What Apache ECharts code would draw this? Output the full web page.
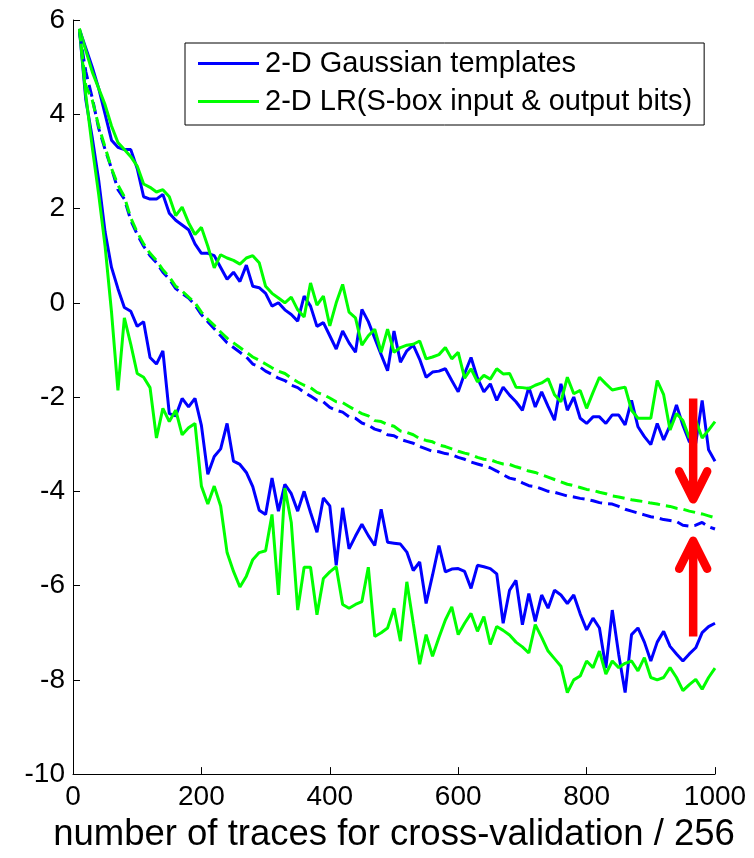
<!DOCTYPE html>
<html>
<head>
<meta charset="utf-8">
<script src="https://cdn.jsdelivr.net/npm/echarts@6/dist/echarts.min.js"></script>
<style>
html,body{margin:0;padding:0;background:#fff;}
#chart{width:754px;height:858px;}
</style>
</head>
<body>
<div id="chart"></div>
<script>
// ---- data ----
const xs = [10,20,30,40,50,60,70,80,90,100,
  110,120,130,140,150,160,170,180,190,200,
  210,220,230,240,250,260,270,280,290,300,
  310,320,330,340,350,360,370,380,390,400,
  410,420,430,440,450,460,470,480,490,500,
  510,520,530,540,550,560,570,580,590,600,
  610,620,630,640,650,660,670,680,690,700,
  710,720,730,740,750,760,770,780,790,800,
  810,820,830,840,850,860,870,880,890,900,
  910,920,930,940,950,960,970,980,990,1000];

const blueUpper = [5.8,5.4,5.0,4.55,4.0,3.45,3.3,3.25,3.25,2.85,
  2.25,2.2,2.2,2.3,1.9,1.75,1.65,1.55,1.25,1.05,
  1.05,1.0,0.75,0.5,0.65,0.45,0.8,0.35,0.32,0.2,
  -0.07,0.0,-0.15,-0.25,-0.39,0.14,-0.07,-0.5,-0.42,-0.7,
  -0.98,-0.6,-0.85,-1.05,-0.14,-0.4,-0.75,-1.1,-1.44,-0.6,
  -1.26,-1.02,-0.9,-1.2,-1.58,-1.47,-1.45,-1.4,-1.65,-1.89,
  -1.5,-1.16,-1.6,-1.89,-1.72,-2.07,-1.79,-1.96,-2.1,-2.28,
  -1.79,-2.21,-1.89,-2.2,-2.49,-1.72,-2.28,-2.0,-2.45,-2.56,
  -2.42,-2.42,-2.56,-2.38,-2.38,-2.59,-2.07,-2.63,-2.84,-3.01,
  -2.56,-2.91,-2.6,-2.17,-2.6,-2.95,-2.98,-2.07,-3.12,-3.36];

const blueMiddle = [5.75,4.9,4.35,3.7,3.25,2.85,2.4,2.2,1.75,1.45,
  1.2,1.0,0.85,0.65,0.5,0.3,0.2,0.1,-0.05,-0.25,
  -0.4,-0.55,-0.7,-0.85,-0.95,-1.05,-1.15,-1.3,-1.35,-1.45,
  -1.52,-1.6,-1.65,-1.75,-1.8,-1.9,-1.98,-2.07,-2.1,-2.22,
  -2.28,-2.32,-2.42,-2.45,-2.55,-2.6,-2.68,-2.72,-2.8,-2.82,
  -2.9,-2.94,-2.98,-3.05,-3.1,-3.15,-3.16,-3.2,-3.22,-3.28,
  -3.32,-3.38,-3.42,-3.46,-3.5,-3.57,-3.65,-3.72,-3.75,-3.82,
  -3.88,-3.9,-3.95,-4.0,-4.02,-4.06,-4.1,-4.12,-4.15,-4.17,
  -4.2,-4.24,-4.26,-4.27,-4.32,-4.38,-4.42,-4.46,-4.5,-4.54,
  -4.56,-4.6,-4.62,-4.64,-4.72,-4.74,-4.72,-4.66,-4.75,-4.8];

const blueLower = [5.8,4.3,3.5,2.6,1.5,0.75,0.3,-0.1,-0.18,-0.5,
  -0.4,-1.16,-1.3,-1.02,-2.35,-2.4,-2.03,-2.21,-2.03,-2.6,
  -3.64,-3.26,-3.1,-2.56,-3.36,-3.43,-3.6,-3.9,-4.4,-4.49,
  -3.72,-4.42,-3.85,-4.05,-4.42,-4.0,-4.45,-4.87,-4.14,-4.31,
  -5.57,-4.35,-5.22,-4.95,-4.7,-4.94,-5.15,-4.38,-5.08,-5.1,
  -5.12,-5.29,-5.68,-5.5,-6.38,-5.78,-5.15,-5.71,-5.65,-5.64,
  -5.7,-6.06,-5.57,-5.6,-5.64,-5.75,-6.8,-6.1,-5.89,-6.83,
  -6.17,-6.76,-6.2,-6.48,-6.1,-6.2,-6.38,-6.2,-6.6,-6.94,
  -6.69,-6.9,-7.75,-6.52,-7.46,-8.27,-7.04,-6.9,-7.2,-7.6,
  -7.2,-6.97,-7.29,-7.45,-7.6,-7.45,-7.32,-7.0,-6.87,-6.8];

const greenUpper = [5.82,5.35,4.9,4.55,4.2,3.75,3.4,3.25,3.1,2.9,
  2.52,2.45,2.35,2.4,2.25,1.85,2.03,1.7,1.45,1.6,
  1.2,0.74,1.02,0.95,0.9,0.82,0.95,1.0,0.85,0.35,
  0.2,0.1,0.0,0.12,-0.15,-0.3,0.42,-0.05,0.14,-0.49,
  0.0,0.39,-0.2,-0.32,-0.9,-0.7,-0.56,-1.05,-0.56,-1.05,
  -0.95,-0.9,-0.88,-0.81,-1.19,-1.15,-1.1,-0.95,-1.19,-1.05,
  -1.6,-1.4,-1.68,-1.54,-1.62,-1.4,-1.51,-1.5,-1.79,-1.8,
  -1.82,-1.75,-1.7,-1.61,-1.95,-2.1,-1.58,-1.93,-1.86,-2.24,
  -1.9,-1.58,-1.72,-1.85,-1.82,-1.79,-2.28,-2.45,-2.45,-2.45,
  -1.65,-1.95,-2.7,-2.35,-2.5,-2.87,-2.49,-2.87,-2.7,-2.52];

const greenMiddle = [5.8,4.6,4.3,3.75,3.3,2.85,2.5,2.25,1.8,1.5,
  1.25,1.05,0.9,0.7,0.55,0.35,0.25,0.12,0.0,-0.2,
  -0.35,-0.48,-0.62,-0.75,-0.85,-0.95,-1.05,-1.15,-1.22,-1.3,
  -1.38,-1.45,-1.5,-1.6,-1.68,-1.75,-1.8,-1.9,-1.95,-2.02,
  -2.1,-2.12,-2.2,-2.28,-2.35,-2.4,-2.5,-2.52,-2.58,-2.62,
  -2.72,-2.75,-2.8,-2.88,-2.92,-2.95,-3.02,-3.05,-3.1,-3.15,
  -3.19,-3.22,-3.28,-3.32,-3.33,-3.38,-3.42,-3.43,-3.48,-3.52,
  -3.57,-3.6,-3.65,-3.7,-3.75,-3.8,-3.85,-3.88,-3.92,-3.96,
  -3.98,-4.02,-4.05,-4.1,-4.12,-4.15,-4.18,-4.2,-4.22,-4.25,
  -4.27,-4.3,-4.32,-4.36,-4.38,-4.42,-4.45,-4.48,-4.52,-4.56];

const greenLower = [5.8,4.4,3.3,2.3,1.2,-0.2,-1.86,-0.32,-0.88,-1.5,
  -1.58,-1.8,-2.87,-2.24,-2.52,-2.28,-2.8,-2.65,-2.56,-3.89,
  -4.27,-3.89,-4.31,-5.3,-5.7,-6.03,-5.8,-5.45,-5.3,-5.26,
  -4.49,-6.2,-3.93,-4.66,-6.52,-5.61,-5.61,-6.62,-5.85,-5.71,
  -5.6,-6.4,-6.48,-6.4,-6.34,-5.61,-7.08,-7.0,-6.9,-6.48,
  -7.18,-5.92,-6.8,-7.67,-7.04,-7.5,-7.1,-6.73,-6.45,-7.04,
  -6.8,-6.59,-6.97,-6.66,-7.25,-6.87,-6.95,-7.05,-7.2,-7.3,
  -7.43,-6.83,-7.1,-7.39,-7.55,-7.71,-8.27,-8.0,-7.92,-7.6,
  -7.74,-7.39,-7.88,-7.6,-7.74,-7.65,-7.6,-7.81,-7.53,-7.95,
  -8.0,-7.95,-7.74,-7.95,-8.23,-8.1,-7.99,-8.2,-7.95,-7.75];

const xTicks = [0,200,400,600,800,1000];
const yTicks = [-10,-8,-6,-4,-2,0,2,4,6];

const seriesNames = ['2-D Gaussian templates', '2-D LR(S-box input & output bits)'];
const xTitle = 'number of traces for cross-validation / 256';

// annotation arrows: [x, from y, to y (tip)]
const arrowX = [966, 966];
const arrowFrom = [-2.03, -7.08];
const arrowTo = [-4.17, -5.05];

// ---- chart ----
const FONT = '"Liberation Sans", Arial, Helvetica, sans-serif';
const BLUE = '#0000ff', GREEN = '#00ff00', RED = '#ff0000';

function pairs(ys) { return xs.map((x, i) => [x, ys[i]]); }

function lineSeries(name, ys, color, dashed) {
  return {
    name: name,
    type: 'line',
    data: pairs(ys),
    showSymbol: false,
    symbol: 'none',
    silent: true,
    animation: false,
    lineStyle: { color: color, width: 3, type: dashed ? [12, 6] : 'solid' },
    itemStyle: { color: color }
  };
}

const chart = echarts.init(document.getElementById('chart'), null, { renderer: 'canvas' });

const option = {
  backgroundColor: '#ffffff',
  animation: false,
  textStyle: { fontFamily: FONT },
  grid: { left: 73, right: 39, top: 20, bottom: 77, containLabel: false },
  legend: {
    data: seriesNames,
    orient: 'vertical',
    left: 185,
    top: 43,
    icon: 'rect',
    itemWidth: 61,
    itemHeight: 3,
    itemGap: 9,
    padding: [6, 12, 9, 13],
    borderColor: '#000',
    borderWidth: 1,
    backgroundColor: '#fff',
    selectedMode: false,
    textStyle: { fontFamily: FONT, fontSize: 29, color: '#000', padding: [0, 0, 0, 1] }
  },
  xAxis: {
    type: 'value',
    min: xTicks[0],
    max: xTicks[xTicks.length - 1],
    interval: 200,
    name: xTitle,
    nameLocation: 'middle',
    nameGap: 37,
    nameTextStyle: { fontFamily: FONT, fontSize: 36.5, color: '#000' },
    axisLine: { show: true, onZero: false, lineStyle: { color: '#000', width: 1 } },
    axisTick: { show: true, inside: true, length: 7, lineStyle: { color: '#000' } },
    axisLabel: { fontFamily: FONT, fontSize: 28, color: '#000', margin: 9,
      formatter: function (v) { return String(v); } },
    splitLine: { show: false }
  },
  yAxis: {
    type: 'value',
    min: yTicks[0],
    max: yTicks[yTicks.length - 1],
    interval: 2,
    axisLine: { show: true, onZero: false, lineStyle: { color: '#000', width: 1 } },
    axisTick: { show: true, inside: true, length: 7, lineStyle: { color: '#000' } },
    axisLabel: { fontFamily: FONT, fontSize: 28, color: '#000', margin: 8,
      formatter: function (v) { return String(v); } },
    splitLine: { show: false }
  },
  series: [
    lineSeries(seriesNames[0], blueUpper, BLUE, false),
    lineSeries(seriesNames[1], greenUpper, GREEN, false),
    lineSeries(seriesNames[0], blueLower, BLUE, false),
    lineSeries(seriesNames[1], greenLower, GREEN, false),
    lineSeries(seriesNames[0], blueMiddle, BLUE, true),
    lineSeries(seriesNames[1], greenMiddle, GREEN, true),
    {
      type: 'custom',
      name: 'arrows',
      silent: true,
      animation: false,
      clip: false,
      z: 5,
      data: arrowX.map((x, i) => [x, arrowFrom[i], arrowTo[i]]),
      encode: { x: 0, y: [1, 2] },
      renderItem: function (params, api) {
        const x = api.value(0), y1 = api.value(1), y2 = api.value(2);
        const p1 = api.coord([x, y1]);
        const p2 = api.coord([x, y2]);
        const dir = p2[1] > p1[1] ? 1 : -1;
        const hw = 14, hl = 28;
        return {
          type: 'group',
          children: [
            { type: 'line', shape: { x1: p1[0], y1: p1[1], x2: p2[0], y2: p2[1] - dir * 3 },
              style: { stroke: RED, lineWidth: 8.5, lineCap: 'butt' } },
            { type: 'polyline', shape: { points: [[p2[0] - hw, p2[1] - dir * hl], [p2[0], p2[1]], [p2[0] + hw, p2[1] - dir * hl]] },
              style: { stroke: RED, fill: null, lineWidth: 8.5, lineCap: 'round', lineJoin: 'round' } }
          ]
        };
      }
    }
  ]
};
chart.setOption(option);
</script>
</body>
</html>
